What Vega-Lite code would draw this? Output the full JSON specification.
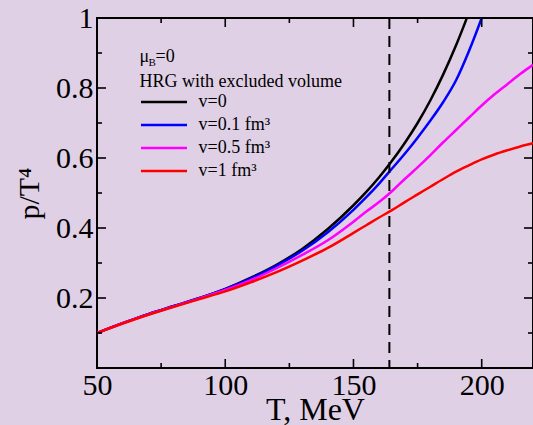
{
  "$schema": "https://vega.github.io/schema/vega-lite/v6.json",
  "width": 436,
  "height": 350,
  "autosize": "none",
  "padding": {"left": 97, "top": 18, "right": 0, "bottom": 57},
  "background": "#e0d0e6",
  "config": {
    "font": "Liberation Serif",
    "view": {"stroke": "black", "strokeWidth": 2},
    "axis": {
      "domainColor": "black", "domainWidth": 2,
      "labelFont": "Liberation Serif", "titleFont": "Liberation Serif",
      "labelColor": "black", "titleColor": "black",
      "grid": false, "titleFontWeight": "normal"
    }
  },
  "datasets": {
    "curves": [
      {"T": 50, "p": 0.100, "v": "v=0"}, {"T": 60, "p": 0.128, "v": "v=0"}, {"T": 70, "p": 0.154, "v": "v=0"}, {"T": 80, "p": 0.177, "v": "v=0"}, {"T": 90, "p": 0.200, "v": "v=0"}, {"T": 100, "p": 0.226, "v": "v=0"}, {"T": 110, "p": 0.258, "v": "v=0"}, {"T": 120, "p": 0.295, "v": "v=0"}, {"T": 130, "p": 0.340, "v": "v=0"}, {"T": 140, "p": 0.397, "v": "v=0"}, {"T": 150, "p": 0.465, "v": "v=0"}, {"T": 155, "p": 0.503, "v": "v=0"}, {"T": 160, "p": 0.545, "v": "v=0"}, {"T": 164, "p": 0.582, "v": "v=0"}, {"T": 170, "p": 0.643, "v": "v=0"}, {"T": 175, "p": 0.700, "v": "v=0"}, {"T": 180, "p": 0.765, "v": "v=0"}, {"T": 185, "p": 0.839, "v": "v=0"}, {"T": 190, "p": 0.922, "v": "v=0"}, {"T": 194, "p": 0.996, "v": "v=0"}, {"T": 197, "p": 1.055, "v": "v=0"},
      {"T": 50, "p": 0.100, "v": "v=0.1 fm³"}, {"T": 60, "p": 0.128, "v": "v=0.1 fm³"}, {"T": 70, "p": 0.154, "v": "v=0.1 fm³"}, {"T": 80, "p": 0.177, "v": "v=0.1 fm³"}, {"T": 90, "p": 0.200, "v": "v=0.1 fm³"}, {"T": 100, "p": 0.225, "v": "v=0.1 fm³"}, {"T": 110, "p": 0.256, "v": "v=0.1 fm³"}, {"T": 120, "p": 0.292, "v": "v=0.1 fm³"}, {"T": 130, "p": 0.335, "v": "v=0.1 fm³"}, {"T": 140, "p": 0.388, "v": "v=0.1 fm³"}, {"T": 150, "p": 0.452, "v": "v=0.1 fm³"}, {"T": 155, "p": 0.488, "v": "v=0.1 fm³"}, {"T": 160, "p": 0.527, "v": "v=0.1 fm³"}, {"T": 164, "p": 0.561, "v": "v=0.1 fm³"}, {"T": 170, "p": 0.612, "v": "v=0.1 fm³"}, {"T": 175, "p": 0.658, "v": "v=0.1 fm³"}, {"T": 180, "p": 0.707, "v": "v=0.1 fm³"}, {"T": 185, "p": 0.760, "v": "v=0.1 fm³"}, {"T": 190, "p": 0.822, "v": "v=0.1 fm³"}, {"T": 195, "p": 0.905, "v": "v=0.1 fm³"}, {"T": 200, "p": 1.0, "v": "v=0.1 fm³"}, {"T": 202, "p": 1.04, "v": "v=0.1 fm³"},
      {"T": 50, "p": 0.100, "v": "v=0.5 fm³"}, {"T": 60, "p": 0.128, "v": "v=0.5 fm³"}, {"T": 70, "p": 0.153, "v": "v=0.5 fm³"}, {"T": 80, "p": 0.176, "v": "v=0.5 fm³"}, {"T": 90, "p": 0.199, "v": "v=0.5 fm³"}, {"T": 100, "p": 0.223, "v": "v=0.5 fm³"}, {"T": 110, "p": 0.251, "v": "v=0.5 fm³"}, {"T": 120, "p": 0.285, "v": "v=0.5 fm³"}, {"T": 130, "p": 0.323, "v": "v=0.5 fm³"}, {"T": 140, "p": 0.365, "v": "v=0.5 fm³"}, {"T": 150, "p": 0.418, "v": "v=0.5 fm³"}, {"T": 155, "p": 0.447, "v": "v=0.5 fm³"}, {"T": 160, "p": 0.474, "v": "v=0.5 fm³"}, {"T": 165, "p": 0.505, "v": "v=0.5 fm³"}, {"T": 170, "p": 0.540, "v": "v=0.5 fm³"}, {"T": 175, "p": 0.573, "v": "v=0.5 fm³"}, {"T": 180, "p": 0.608, "v": "v=0.5 fm³"}, {"T": 185, "p": 0.645, "v": "v=0.5 fm³"}, {"T": 190, "p": 0.680, "v": "v=0.5 fm³"}, {"T": 195, "p": 0.715, "v": "v=0.5 fm³"}, {"T": 200, "p": 0.750, "v": "v=0.5 fm³"}, {"T": 205, "p": 0.782, "v": "v=0.5 fm³"}, {"T": 210, "p": 0.811, "v": "v=0.5 fm³"}, {"T": 215, "p": 0.840, "v": "v=0.5 fm³"}, {"T": 220, "p": 0.866, "v": "v=0.5 fm³"},
      {"T": 50, "p": 0.100, "v": "v=1 fm³"}, {"T": 60, "p": 0.127, "v": "v=1 fm³"}, {"T": 70, "p": 0.152, "v": "v=1 fm³"}, {"T": 80, "p": 0.175, "v": "v=1 fm³"}, {"T": 90, "p": 0.197, "v": "v=1 fm³"}, {"T": 100, "p": 0.219, "v": "v=1 fm³"}, {"T": 110, "p": 0.245, "v": "v=1 fm³"}, {"T": 120, "p": 0.274, "v": "v=1 fm³"}, {"T": 130, "p": 0.307, "v": "v=1 fm³"}, {"T": 140, "p": 0.343, "v": "v=1 fm³"}, {"T": 150, "p": 0.386, "v": "v=1 fm³"}, {"T": 155, "p": 0.408, "v": "v=1 fm³"}, {"T": 160, "p": 0.430, "v": "v=1 fm³"}, {"T": 165, "p": 0.451, "v": "v=1 fm³"}, {"T": 170, "p": 0.474, "v": "v=1 fm³"}, {"T": 175, "p": 0.496, "v": "v=1 fm³"}, {"T": 180, "p": 0.518, "v": "v=1 fm³"}, {"T": 185, "p": 0.540, "v": "v=1 fm³"}, {"T": 190, "p": 0.561, "v": "v=1 fm³"}, {"T": 195, "p": 0.579, "v": "v=1 fm³"}, {"T": 200, "p": 0.596, "v": "v=1 fm³"}, {"T": 205, "p": 0.610, "v": "v=1 fm³"}, {"T": 210, "p": 0.622, "v": "v=1 fm³"}, {"T": 215, "p": 0.633, "v": "v=1 fm³"}, {"T": 220, "p": 0.642, "v": "v=1 fm³"}
    ],
    "xmajor": [{"T": 100}, {"T": 150}, {"T": 200}],
    "xminor": [{"T": 75}, {"T": 125}, {"T": 175}],
    "ymajor": [{"p": 0.2}, {"p": 0.4}, {"p": 0.6}, {"p": 0.8}],
    "yminor": [{"p": 0.1}, {"p": 0.3}, {"p": 0.5}, {"p": 0.7}, {"p": 0.9}]
  },
  "resolve": {"axis": {"x": "independent", "y": "independent"}},
  "layer": [
    {
      "data": {"name": "curves"},
      "mark": {"type": "line", "strokeWidth": 2.5, "interpolate": "monotone", "clip": true},
      "encoding": {
        "x": {
          "field": "T", "type": "quantitative",
          "scale": {"domain": [50, 220], "nice": false, "zero": false},
          "axis": {
            "orient": "bottom", "title": "T, MeV", "titleFontSize": 32, "labelFontSize": 30,
            "values": [50, 100, 150, 200], "ticks": false, "domain": false,
            "labelPadding": 2, "titlePadding": -6, "labelFlush": false
          }
        },
        "y": {
          "field": "p", "type": "quantitative",
          "scale": {"domain": [0, 1], "nice": false},
          "axis": {
            "orient": "left", "title": "p/T⁴", "titleFontSize": 30, "labelFontSize": 30,
            "values": [0.2, 0.4, 0.6, 0.8, 1.0], "format": "~g", "ticks": false, "domain": false,
            "labelPadding": 4, "titlePadding": 11, "labelFlush": false
          }
        },
        "color": {
          "field": "v", "type": "nominal",
          "scale": {"domain": ["v=0", "v=0.1 fm³", "v=0.5 fm³", "v=1 fm³"], "range": ["#000000", "#0000ff", "#ff00ff", "#ff0000"]},
          "legend": {
            "orient": "none", "legendX": 42.5, "legendY": 55, "padding": 0,
            "title": "HRG with excluded volume", "titleFontSize": 18, "titleFontWeight": "normal",
            "titleFont": "Liberation Serif", "titleColor": "black", "titleLimit": 400, "titlePadding": -2,
            "labelFontSize": 18, "labelFont": "Liberation Serif", "labelColor": "black",
            "symbolType": "M-2,0H2", "symbolSize": 529, "symbolStrokeWidth": 2.5, "symbolOffset": 11.5,
            "labelOffset": 21.5, "rowPadding": 1
          }
        }
      }
    },
    {
      "data": {"values": [{"T": 164}]},
      "mark": {"type": "rule", "color": "black", "strokeWidth": 2, "strokeDash": [11, 7]},
      "encoding": {"x": {"field": "T", "type": "quantitative", "axis": null}}
    },
    {
      "data": {"name": "xmajor"},
      "mark": {"type": "tick", "orient": "vertical", "size": 18, "thickness": 1.6, "color": "black", "opacity": 1, "clip": true},
      "encoding": {"x": {"field": "T", "type": "quantitative", "axis": null}, "y": {"datum": 0, "type": "quantitative", "axis": null}}
    },
    {
      "data": {"name": "xmajor"},
      "mark": {"type": "tick", "orient": "vertical", "size": 18, "thickness": 1.6, "color": "black", "opacity": 1, "clip": true},
      "encoding": {"x": {"field": "T", "type": "quantitative", "axis": null}, "y": {"datum": 1, "type": "quantitative", "axis": null}}
    },
    {
      "data": {"name": "xminor"},
      "mark": {"type": "tick", "orient": "vertical", "size": 10, "thickness": 1.6, "color": "black", "opacity": 1, "clip": true},
      "encoding": {"x": {"field": "T", "type": "quantitative", "axis": null}, "y": {"datum": 0, "type": "quantitative", "axis": null}}
    },
    {
      "data": {"name": "xminor"},
      "mark": {"type": "tick", "orient": "vertical", "size": 10, "thickness": 1.6, "color": "black", "opacity": 1, "clip": true},
      "encoding": {"x": {"field": "T", "type": "quantitative", "axis": null}, "y": {"datum": 1, "type": "quantitative", "axis": null}}
    },
    {
      "data": {"name": "ymajor"},
      "mark": {"type": "tick", "orient": "horizontal", "size": 18, "thickness": 1.6, "color": "black", "opacity": 1, "clip": true},
      "encoding": {"y": {"field": "p", "type": "quantitative", "axis": null}, "x": {"datum": 50, "type": "quantitative", "axis": null}}
    },
    {
      "data": {"name": "ymajor"},
      "mark": {"type": "tick", "orient": "horizontal", "size": 18, "thickness": 1.6, "color": "black", "opacity": 1, "clip": true},
      "encoding": {"y": {"field": "p", "type": "quantitative", "axis": null}, "x": {"datum": 220, "type": "quantitative", "axis": null}}
    },
    {
      "data": {"name": "yminor"},
      "mark": {"type": "tick", "orient": "horizontal", "size": 10, "thickness": 1.6, "color": "black", "opacity": 1, "clip": true},
      "encoding": {"y": {"field": "p", "type": "quantitative", "axis": null}, "x": {"datum": 50, "type": "quantitative", "axis": null}}
    },
    {
      "data": {"name": "yminor"},
      "mark": {"type": "tick", "orient": "horizontal", "size": 10, "thickness": 1.6, "color": "black", "opacity": 1, "clip": true},
      "encoding": {"y": {"field": "p", "type": "quantitative", "axis": null}, "x": {"datum": 220, "type": "quantitative", "axis": null}}
    },
    {
      "data": {"values": [{}]},
      "mark": {"type": "text", "text": "μ", "align": "left", "baseline": "alphabetic", "fontSize": 18, "font": "Liberation Serif", "color": "black"},
      "encoding": {"x": {"datum": 66.6, "type": "quantitative", "axis": null}, "y": {"datum": 0.874, "type": "quantitative", "axis": null}}
    },
    {
      "data": {"values": [{}]},
      "mark": {"type": "text", "text": "B", "align": "left", "baseline": "alphabetic", "fontSize": 11, "dx": 9, "dy": 4, "font": "Liberation Serif", "color": "black"},
      "encoding": {"x": {"datum": 66.6, "type": "quantitative", "axis": null}, "y": {"datum": 0.874, "type": "quantitative", "axis": null}}
    },
    {
      "data": {"values": [{}]},
      "mark": {"type": "text", "text": "=0", "align": "left", "baseline": "alphabetic", "fontSize": 18, "dx": 16, "font": "Liberation Serif", "color": "black"},
      "encoding": {"x": {"datum": 66.6, "type": "quantitative", "axis": null}, "y": {"datum": 0.874, "type": "quantitative", "axis": null}}
    }
  ]
}
